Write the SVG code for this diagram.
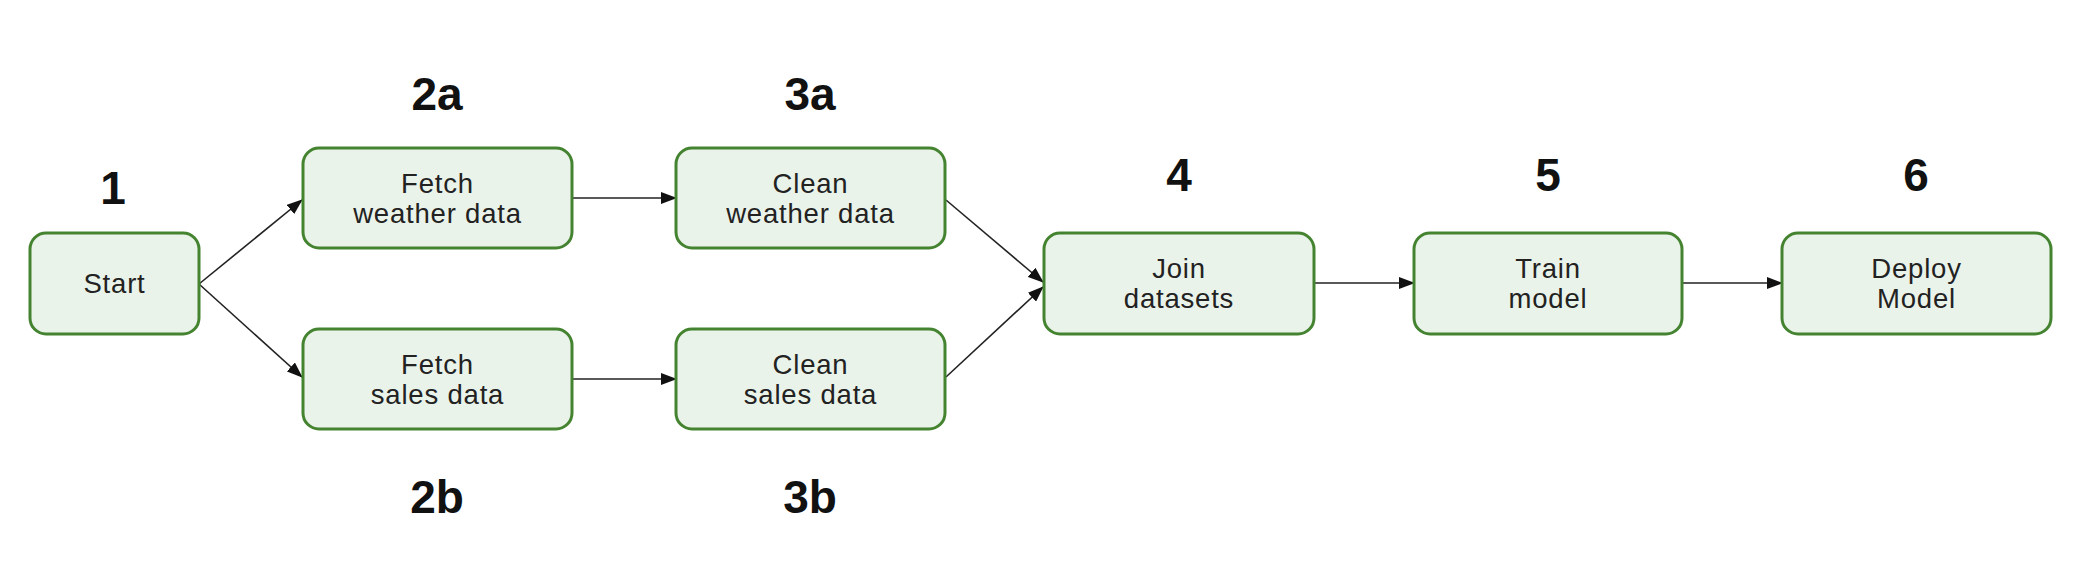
<svg xmlns="http://www.w3.org/2000/svg" width="2098" height="562" viewBox="0 0 2098 562">
<style>
.box{fill:#eaf3ea;stroke:#44832f;stroke-width:3}
.t{font-family:"Liberation Sans",Arial,sans-serif;font-size:27.5px;letter-spacing:0.8px;fill:#222;text-anchor:middle}
.n{font-family:"Liberation Sans",Arial,sans-serif;font-size:46px;font-weight:bold;fill:#111;text-anchor:middle}
.c{fill:none;stroke:#222;stroke-width:1.6}
</style>
<defs>
<marker id="arr" markerUnits="userSpaceOnUse" markerWidth="16" markerHeight="12" refX="15" refY="6" orient="auto">
<path d="M0,0 L16,6 L0,12 Z" fill="#111"/>
</marker>
</defs>
<rect width="2098" height="562" fill="#fff"/>
<g id="labels">
<text class="n" x="113" y="204">1</text>
<text class="n" x="437" y="110">2a</text>
<text class="n" x="437" y="513">2b</text>
<text class="n" x="810" y="110">3a</text>
<text class="n" x="810" y="513">3b</text>
<text class="n" x="1179" y="191">4</text>
<text class="n" x="1548" y="191">5</text>
<text class="n" x="1916" y="191">6</text>
</g>
<g id="connectors">
<path class="c" d="M199,284 L302,200" marker-end="url(#arr)"/>
<path class="c" d="M199,284 L302,377" marker-end="url(#arr)"/>
<path class="c" d="M572,198 L676,198" marker-end="url(#arr)"/>
<path class="c" d="M572,379 L676,379" marker-end="url(#arr)"/>
<path class="c" d="M946,200 L1043,282" marker-end="url(#arr)"/>
<path class="c" d="M946,377 L1043,287" marker-end="url(#arr)"/>
<path class="c" d="M1314,283 L1414,283" marker-end="url(#arr)"/>
<path class="c" d="M1682,283 L1782,283" marker-end="url(#arr)"/>
</g>
<g id="start">
<rect class="box" x="30" y="233" width="169" height="101" rx="16"/>
<text class="t" x="114.5" y="293">Start</text>
</g>
<g id="fetch-weather">
<rect class="box" x="303" y="148" width="269" height="100" rx="16"/>
<text class="t" x="437.5" y="193">Fetch</text>
<text class="t" x="437.5" y="223">weather data</text>
</g>
<g id="fetch-sales">
<rect class="box" x="303" y="329" width="269" height="100" rx="16"/>
<text class="t" x="437.5" y="374">Fetch</text>
<text class="t" x="437.5" y="404">sales data</text>
</g>
<g id="clean-weather">
<rect class="box" x="676" y="148" width="269" height="100" rx="16"/>
<text class="t" x="810.5" y="193">Clean</text>
<text class="t" x="810.5" y="223">weather data</text>
</g>
<g id="clean-sales">
<rect class="box" x="676" y="329" width="269" height="100" rx="16"/>
<text class="t" x="810.5" y="374">Clean</text>
<text class="t" x="810.5" y="404">sales data</text>
</g>
<g id="join">
<rect class="box" x="1044" y="233" width="270" height="101" rx="16"/>
<text class="t" x="1179" y="278">Join</text>
<text class="t" x="1179" y="308">datasets</text>
</g>
<g id="train">
<rect class="box" x="1414" y="233" width="268" height="101" rx="16"/>
<text class="t" x="1548" y="278">Train</text>
<text class="t" x="1548" y="308">model</text>
</g>
<g id="deploy">
<rect class="box" x="1782" y="233" width="269" height="101" rx="16"/>
<text class="t" x="1916.5" y="278">Deploy</text>
<text class="t" x="1916.5" y="308">Model</text>
</g>
</svg>
